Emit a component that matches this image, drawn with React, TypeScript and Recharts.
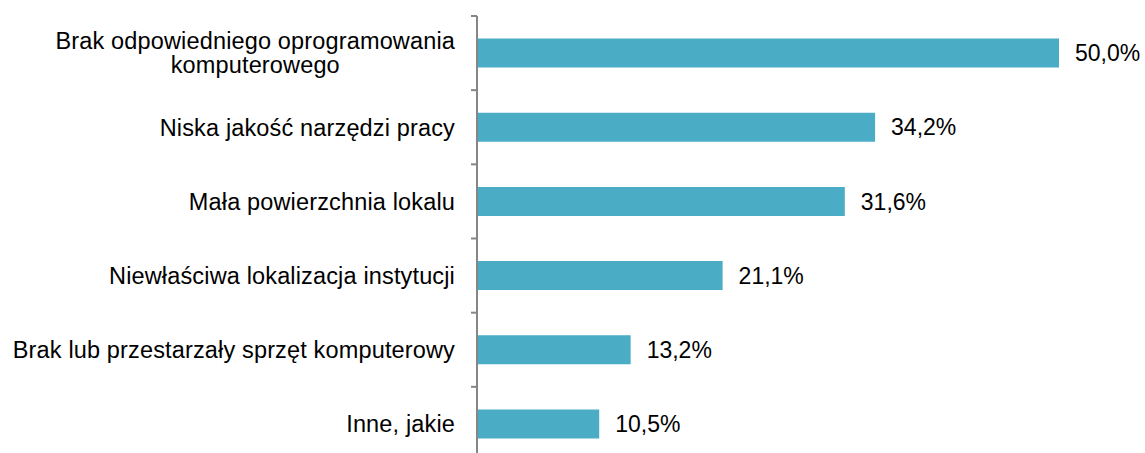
import React from 'react';
import { BarChart, Bar, XAxis, YAxis, LabelList } from 'recharts';

const categories = [
  'Brak odpowiedniego oprogramowania\nkomputerowego',
  'Niska jakość narzędzi pracy',
  'Mała powierzchnia lokalu',
  'Niewłaściwa lokalizacja instytucji',
  'Brak lub przestarzały sprzęt komputerowy',
  'Inne, jakie',
];
const values = [50.0, 34.2, 31.6, 21.1, 13.2, 10.5];
const valueLabels = ['50,0%', '34,2%', '31,6%', '21,1%', '13,2%', '10,5%'];

const data = categories.map((c, i) => ({ name: c, value: values[i], label: valueLabels[i] }));

const FONT_FAMILY = '"Liberation Sans", Arial, sans-serif';
const FONT_SIZE = 23;
const CAT_FONT_SIZE = 23.5;
const CAT_SPACING = 0.15;
const AXIS_COLOR = '#868686';

let ctx: CanvasRenderingContext2D | null = null;
function measure(t: string): number {
  if (!ctx) {
    const c = document.createElement('canvas');
    ctx = c.getContext('2d');
  }
  if (!ctx) return t.length * CAT_FONT_SIZE * 0.5;
  ctx.font = `${CAT_FONT_SIZE}px ${FONT_FAMILY}`;
  return ctx.measureText(t).width + t.length * CAT_SPACING;
}

const CategoryTick = (props: any) => {
  const { x, y, payload, index, visibleTicksCount } = props;
  const half = typeof payload.offset === 'number' && payload.offset > 0 ? payload.offset : 37;
  const lines = String(payload.value).split('\n');
  const right = x - 22;
  const maxW = Math.max(...lines.map(measure));
  const cx = right - maxW / 2;
  const lh = 24;
  const startY = y - ((lines.length - 1) * lh) / 2;
  const count = visibleTicksCount ?? categories.length;
  return (
    <g>
      <line x1={x - 6} x2={x} y1={y - half} y2={y - half} stroke={AXIS_COLOR} strokeWidth={2} />
      {index === count - 1 && (
        <line x1={x - 6} x2={x} y1={y + half} y2={y + half} stroke={AXIS_COLOR} strokeWidth={2} />
      )}
      <text
        textAnchor="middle"
        fontFamily={FONT_FAMILY}
        fontSize={CAT_FONT_SIZE}
        letterSpacing={CAT_SPACING}
        fill="#000"
      >
        {lines.map((l, i) => (
          <tspan key={i} x={cx} y={startY + i * lh} dy="0.355em">
            {l}
          </tspan>
        ))}
      </text>
    </g>
  );
};

export default function App() {
  return (
    <div style={{ position: 'fixed', top: 0, left: 0, background: '#fff', width: 1145, height: 453, overflow: 'hidden' }}>
      <BarChart
        width={1145}
        height={470}
        data={data}
        layout="vertical"
        margin={{ top: 16, right: 86, bottom: 9, left: 0 }}
        barCategoryGap="30.5%"
      >
        <XAxis type="number" domain={[0, 50]} allowDataOverflow hide />
        <YAxis
          type="category"
          dataKey="name"
          width={477}
          tickSize={0}
          tickMargin={0}
          tickLine={false}
          axisLine={{ stroke: AXIS_COLOR, strokeWidth: 2 }}
          tick={<CategoryTick />}
          interval={0}
        />
        <Bar dataKey="value" fill="#4BACC6" isAnimationActive={false}>
          <LabelList
            dataKey="label"
            position="right"
            offset={16}
            fill="#000"
            fontSize={FONT_SIZE}
            fontFamily={FONT_FAMILY}
          />
        </Bar>
      </BarChart>
    </div>
  );
}
